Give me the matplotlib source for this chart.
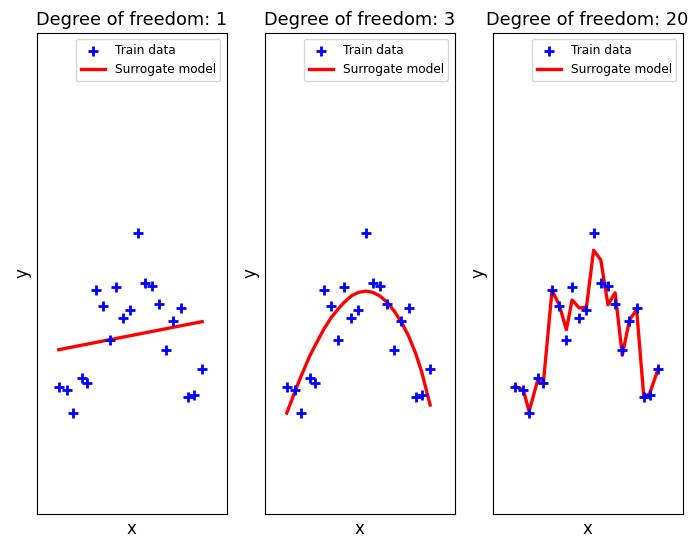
import matplotlib
matplotlib.use('Agg')
import matplotlib.pyplot as plt
import numpy as np

# training samples (same in every panel)
x_train = [0.00, 0.06, 0.10, 0.16, 0.20, 0.26, 0.31, 0.36, 0.40, 0.45, 0.50,
           0.55, 0.60, 0.65, 0.70, 0.75, 0.80, 0.85, 0.90, 0.94, 1.00]
y_train = [-1.42, -1.45, -1.74, -1.30, -1.37, -0.20, -0.40, -0.83, -0.17, -0.56, -0.45,
           0.51, -0.12, -0.16, -0.38, -0.95, -0.59, -0.43, -1.54, -1.52, -1.19]

# surrogate model predictions
dof_values = [1, 3, 20]
model_x = [[0.00, 1.00], x_train, x_train]
model_y = [
    [-0.95, -0.60],
    [-1.74, -1.46, -1.28, -1.03, -0.89, -0.69, -0.55, -0.44, -0.36, -0.28, -0.235,
     -0.22, -0.235, -0.28, -0.36, -0.47, -0.61, -0.78, -1.00, -1.22, -1.64],
    [-1.41, -1.45, -1.72, -1.33, -1.36, -0.21, -0.39, -0.70, -0.33, -0.43, -0.42,
     0.29, 0.17, -0.39, -0.24, -1.02, -0.58, -0.45, -1.54, -1.50, -1.19],
]

fig, axes = plt.subplots(1, 3, figsize=(6.89, 5.4), dpi=100)
plt.subplots_adjust(left=0.053, right=0.9906, bottom=0.048, top=0.939, wspace=0.2)

for ax, dof, mx, my in zip(axes, dof_values, model_x, model_y):
    ax.scatter(x_train, y_train, marker='+', s=60, color='blue', linewidths=2,
               label='Train data', zorder=3)
    ax.plot(mx, my, color='red', linewidth=2.4, label='Surrogate model')
    ax.set_xlim(-0.155, 1.17)
    ax.set_ylim(-3, 3)
    ax.set_xticks([])
    ax.set_yticks([])
    ax.set_xlabel('x', fontsize=12)
    ax.set_ylabel('y', fontsize=12)
    ax.set_title('Degree of freedom: %d' % dof, fontsize=12.8)
    ax.legend(loc='upper right', fontsize=8.7)

plt.savefig('out.png', dpi=100)
